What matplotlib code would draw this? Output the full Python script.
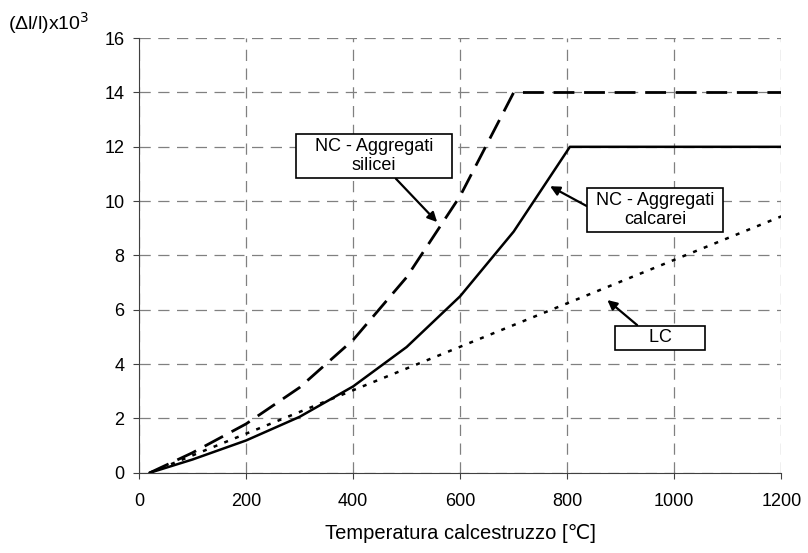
import numpy as np
import matplotlib.pyplot as plt

plt.rcParams['font.family'] = ['Liberation Sans', 'DejaVu Sans']

# dati (temperatura in °C, deformazione x10^3)
temp_sil = [20, 100, 200, 300, 400, 500, 600, 700, 1200]
eps_sil = [0.0, 0.74, 1.80, 3.14, 4.89, 7.20, 10.19, 14.0, 14.0]

temp_cal = [20, 100, 200, 300, 400, 500, 600, 700, 805, 1200]
eps_cal = [0.0, 0.49, 1.19, 2.06, 3.18, 4.63, 6.50, 8.88, 12.0, 12.0]

temp_lc = [20, 1200]
eps_lc = [0.0, 9.44]

xticks = [0, 200, 400, 600, 800, 1000, 1200]
yticks = [0, 2, 4, 6, 8, 10, 12, 14, 16]

fs = 13

fig = plt.figure(figsize=(8.08, 5.53), dpi=100)
ax = fig.add_axes([0.172, 0.145, 0.795, 0.786])

ax.plot(temp_sil, eps_sil, color='black', lw=2, linestyle=(0, (7.5, 3.5)))
ax.plot(temp_cal, eps_cal, color='black', lw=1.8)
ax.plot(temp_lc, eps_lc, color='black', lw=1.8, linestyle=(0, (1.6, 3)))

ax.set_xlim(0, 1200)
ax.set_ylim(0, 16)
ax.set_xticks(xticks)
ax.set_yticks(yticks)
ax.grid(True, color='#808080', linestyle=(0, (9, 6)), lw=0.9)
ax.spines['top'].set_visible(False)
ax.spines['right'].set_visible(False)
for s in ['left', 'bottom']:
    ax.spines[s].set_color('#404040')
ax.tick_params(colors='#404040', labelcolor='black', labelsize=fs, length=4.5)
ax.tick_params(axis='x', pad=10)
ax.tick_params(axis='y', pad=6)

ax.set_xlabel('Temperatura calcestruzzo [℃]', fontsize=14.5, labelpad=10)
fig.text(0.010, 0.958, '(Δl/l)x10$^3$', fontsize=14, va='center')

box = dict(boxstyle='square,pad=0.2', fc='white', ec='black', lw=1.2)
arrow = dict(arrowstyle='-|>', color='black', lw=1.6, mutation_scale=14,
             shrinkA=0, shrinkB=0)

ax.annotate('   NC - Aggregati   \nsilicei', xy=(557, 9.23), xytext=(439, 11.66),
            ha='center', va='center', fontsize=fs, bbox=box,
            arrowprops=dict(arrow, relpos=(0.62, 0.0)))
ax.annotate(' NC - Aggregati \ncalcarei', xy=(768, 10.55), xytext=(964, 9.67),
            ha='center', va='center', fontsize=fs, bbox=box,
            arrowprops=dict(arrow, relpos=(0.0, 0.55)))
ax.annotate('      LC      ', xy=(875, 6.36), xytext=(974, 4.97),
            ha='center', va='center', fontsize=fs, bbox=box,
            arrowprops=dict(arrow, relpos=(0.28, 1.0)))

fig.savefig('out.png', dpi=100)
